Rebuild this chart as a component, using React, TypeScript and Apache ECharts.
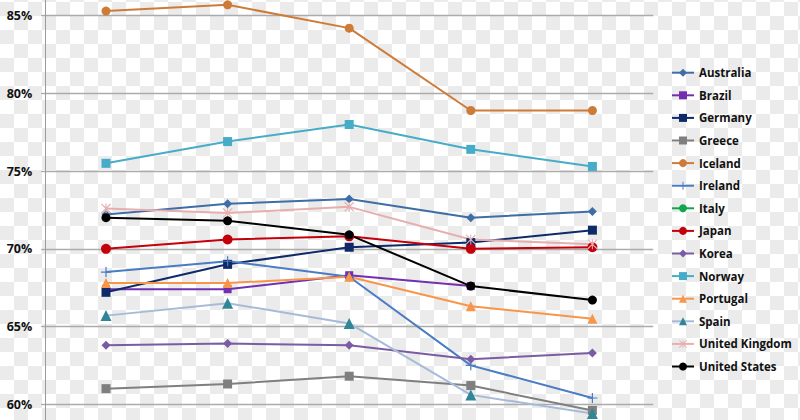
import React, { useEffect, useRef } from "react";
import * as echarts from "echarts";

const categories = ["2007", "2008", "2009", "2010", "2011"];
const yTicks = [55, 60, 65, 70, 75, 80, 85, 90];
const shownTicks = [60, 65, 70, 75, 80, 85];

const australia = [72.2, 72.9, 73.2, 72.0, 72.4];
const brazil = [67.4, 67.4, 68.3, 67.6, null];
const germany = [67.2, 69.0, 70.1, 70.4, 71.2];
const greece = [61.0, 61.3, 61.8, 61.2, 59.6];
const iceland = [85.3, 85.7, 84.2, 78.9, 78.9];
const ireland = [68.5, 69.2, 68.2, 62.5, 60.4];
const italy = [null, null, null, null, null];
const japan = [70.0, 70.6, 70.8, 70.0, 70.1];
const korea = [63.8, 63.9, 63.8, 62.9, 63.3];
const norway = [75.5, 76.9, 78.0, 76.4, 75.3];
const portugal = [67.8, 67.8, 68.2, 66.3, 65.5];
const spain = [65.7, 66.5, 65.2, 60.6, 59.4];
const unitedKingdom = [72.6, 72.3, 72.7, 70.6, 70.3];
const unitedStates = [72.0, 71.8, 70.9, 67.6, 66.7];

const PLUS = "path://M4.4,0H5.6V4.4H10V5.6H5.6V10H4.4V5.6H0V4.4H4.4Z";
const STAR =
  "path://M0,0.8L0.8,0L5,4.2L9.2,0L10,0.8L5.8,5L10,9.2L9.2,10L5,5.8L0.8,10L0,9.2L4.2,5ZM4.5,0H5.5V10H4.5Z";

type S = {
  name: string;
  data: (number | null)[];
  line: string;
  marker: string;
  symbol: string;
  size: number;
};

const seriesDefs: S[] = [
  { name: "Australia", data: australia, line: "#3F6DA6", marker: "#3F6DA6", symbol: "diamond", size: 9 },
  { name: "Brazil", data: brazil, line: "#7230B0", marker: "#7230B0", symbol: "rect", size: 8 },
  { name: "Germany", data: germany, line: "#0E2A68", marker: "#0E2A68", symbol: "rect", size: 9 },
  { name: "Greece", data: greece, line: "#7F7F7F", marker: "#7F7F7F", symbol: "rect", size: 9 },
  { name: "Iceland", data: iceland, line: "#CE7B38", marker: "#CE7B38", symbol: "circle", size: 9 },
  { name: "Ireland", data: ireland, line: "#4A7CC4", marker: "#4A7CC4", symbol: PLUS, size: 10 },
  { name: "Italy", data: italy, line: "#12A64C", marker: "#12A64C", symbol: "circle", size: 9 },
  { name: "Japan", data: japan, line: "#C4000B", marker: "#C4000B", symbol: "circle", size: 10 },
  { name: "Korea", data: korea, line: "#7B5CA4", marker: "#7B5CA4", symbol: "diamond", size: 9 },
  { name: "Norway", data: norway, line: "#46ACC8", marker: "#46ACC8", symbol: "rect", size: 9 },
  { name: "Portugal", data: portugal, line: "#F7964A", marker: "#F7964A", symbol: "triangle", size: 10 },
  { name: "Spain", data: spain, line: "#A5BBD9", marker: "#2E8696", symbol: "triangle", size: 11 },
  { name: "United Kingdom", data: unitedKingdom, line: "#E6AEAE", marker: "#E6AEAE", symbol: STAR, size: 10 },
  { name: "United States", data: unitedStates, line: "#000000", marker: "#000000", symbol: "circle", size: 9 },
];

export default function App() {
  const ref = useRef<HTMLDivElement>(null);
  useEffect(() => {
    if (!ref.current) return;
    const chart = echarts.init(ref.current, null, { renderer: "svg" });
    chart.setOption({
      animation: false,
      backgroundColor: "transparent",
      grid: { left: 45.2, right: 146.8, top: 38, bottom: 38.1, containLabel: false },
      xAxis: {
        type: "category",
        data: categories,
        boundaryGap: true,
        axisLine: { show: false },
        axisTick: { show: false },
        axisLabel: { show: false },
        splitLine: { show: false },
      },
      yAxis: {
        type: "value",
        min: yTicks[0],
        max: yTicks[yTicks.length - 1],
        interval: 5,
        axisLine: { show: true, lineStyle: { color: "#9a9a9a", width: 1 } },
        axisTick: { show: true, length: 4, lineStyle: { color: "#a8a8a8", width: 1.3 } },
        splitLine: { show: true, lineStyle: { color: "#ababab", width: 1.3 } },
        axisLabel: {
          margin: 13,
          formatter: (v: number) => (shownTicks.includes(v) ? `${v}%` : ""),
          color: "#111",
          fontFamily: "Open Sans",
          fontWeight: "bold",
          fontSize: 12.5,
        },
      },
      legend: {
        orient: "vertical",
        left: 666,
        top: 160.7,
        itemWidth: 22,
        itemHeight: 10,
        itemGap: 8.6,
        data: seriesDefs.map((s) => s.name),
        textStyle: {
          color: "#111",
          fontFamily: "Open Sans",
          fontWeight: "bold",
          fontSize: 11.5,
          lineHeight: 14,
        },
      },
      series: seriesDefs.map((s) => ({
        name: s.name,
        type: "line",
        data: s.data,
        symbol: s.symbol,
        symbolSize: s.size,
        showSymbol: true,
        connectNulls: false,
        lineStyle: { color: s.line, width: 2 },
        itemStyle: { color: s.marker },
      })),
    });
    return () => chart.dispose();
  }, []);

  return (
    <div
      style={{
        position: "fixed",
        left: 0,
        top: 0,
        width: 800,
        height: 420,
        overflow: "hidden",
        backgroundColor: "#ffffff",
        backgroundImage:
          "conic-gradient(#ebebeb 25%, #ffffff 0 50%, #ebebeb 0 75%, #ffffff 0)",
        backgroundSize: "28px 28px",
        backgroundPosition: "0px 16px",
      }}
    >
      <div ref={ref} style={{ position: "absolute", left: 0, top: -100, width: 800, height: 620 }} />
    </div>
  );
}
